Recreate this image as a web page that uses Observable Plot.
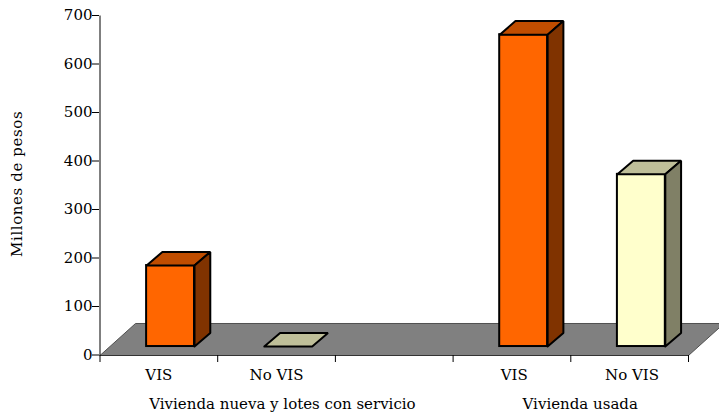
<!DOCTYPE html>
<html><head><meta charset="utf-8">
<script src="https://cdn.jsdelivr.net/npm/d3@7"></script>
<script src="https://cdn.jsdelivr.net/npm/@observablehq/plot@0.6"></script>
<style>html,body{margin:0;padding:0;background:#fff;overflow:hidden}
.ytitle text{letter-spacing:.6px}</style>
</head><body><div id="chart"></div>
<script>
const categories = ["VIS", "No VIS", "VIS", "No VIS"];
const slotIndex = [0, 1, 3, 4];
const values = [167, 0, 643, 355];
const yTicks = [0, 100, 200, 300, 400, 500, 600, 700];
const xTicks = [0, 1, 2, 3, 4, 5];
const groups = ["Vivienda nueva y lotes con servicio", "Vivienda usada"];
const groupCenters = [1.55, 4.08];
const frontColor = ["#FF6600", "#FFFFCC", "#FF6600", "#FFFFCC"];
const topColor = ["#C04D00", "#BFBF99", "#C04D00", "#BFBF99"];
const sideColor = ["#803300", "#808066", "#803300", "#808066"];

// depth expressed in data units
const barStart = 0.396, barWidth = 0.407, barDx = 0.134, barDy = 28, baseY = 18.5;
const floorDx = 0.302, floorDy = 66;

const floor = [[0,0],[5,0],[5+floorDx,floorDy],[floorDx,floorDy],[0,0]].map(([x,y]) => ({x,y}));
const bars = values.map((v,i) => {
  const x1 = slotIndex[i] + barStart, x2 = x1 + barWidth, y1 = baseY, y2 = baseY + v;
  return {i, x1, x2, y1, y2};
});
const faces = bars.flatMap(b => {
  const top = [[b.x1,b.y2],[b.x2,b.y2],[b.x2+barDx,b.y2+barDy],[b.x1+barDx,b.y2+barDy],[b.x1,b.y2]];
  const side = [[b.x2,b.y1],[b.x2+barDx,b.y1+barDy],[b.x2+barDx,b.y2+barDy],[b.x2,b.y2],[b.x2,b.y1]];
  const out = top.map(([x,y]) => ({x,y,id:`t${b.i}`,c:topColor[b.i]}));
  if (b.y2 > b.y1) out.push(...side.map(([x,y]) => ({x,y,id:`s${b.i}`,c:sideColor[b.i]})));
  return out;
});
const font = "DejaVu Serif";
const catData = categories.map((c,i) => ({c, x: slotIndex[i] + 0.5 + (i > 1 ? 0.02 : 0)}));
const groupData = groups.map((g,i) => ({g, x: groupCenters[i]}));

const chart = Plot.plot({
  width: 719, height: 417,
  marginLeft: 99, marginRight: 31, marginTop: 15, marginBottom: 62,
  style: {background: "#fff", overflow: "hidden", fontFamily: font, color: "#000"},
  x: {domain: [0, 5], range: [99.5, 688]},
  y: {domain: [0, 700], range: [355, 15.5]},
  marks: [
    Plot.line(floor, {x:"x", y:"y", fill:"#808080", stroke:"#505050", strokeWidth:1}),
    Plot.rect(bars.filter(b => b.y2 > b.y1), {x1:"x1", x2:"x2", y1:"y1", y2:"y2",
      fill: d => frontColor[d.i], stroke:"#000", strokeWidth:2}),
    Plot.line(faces, {x:"x", y:"y", z:"id", fill:"c", stroke:"#000", strokeWidth:2, strokeLinejoin:"miter"}),
    Plot.ruleX([0], {y1:0, y2:700, stroke:"#000"}),
    Plot.ruleY([0], {x1:0, x2:5, stroke:"#333"}),
    Plot.axisY({ticks: yTicks, tickSize: 7, tickPadding: 0, label: null, stroke:"#000",
      fontSize: 15, fontFamily: font, fill:"#000", dy: -0.5}),
    Plot.axisX({ticks: xTicks, tickSize: 7, tickFormat: () => "", label: null, stroke:"#000"}),
    Plot.text(catData, {x:"x", y:0, text:"c", dy: 20, fontSize: 15, fontFamily: font, fill:"#000"}),
    Plot.text(groupData, {x:"x", y:0, text:"g", dy: 49, fontSize: 15, fontFamily: font, fill:"#000"}),
    Plot.text(["Millones de pesos"], {x:0, y:358, dx:-82.5, dy:2, rotate:-90, fontSize: 15, fontFamily: font, fill:"#000", className:"ytitle"})
  ]
});
document.getElementById("chart").appendChild(chart);
</script></body></html>
